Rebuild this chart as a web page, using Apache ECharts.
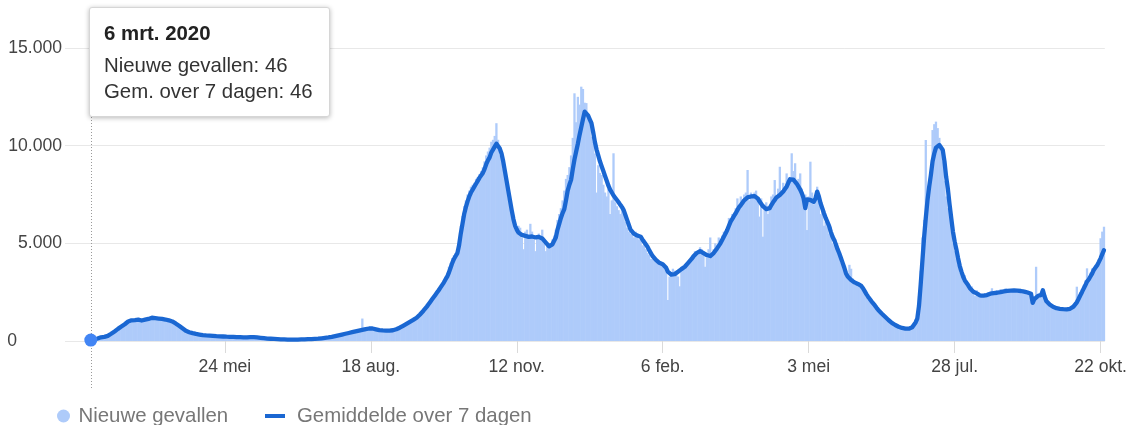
<!DOCTYPE html>
<html><head><meta charset="utf-8">
<script src="https://cdn.jsdelivr.net/npm/echarts@6/dist/echarts.min.js"></script>
<style>html,body{margin:0;padding:0;background:#fff}#c{width:1130px;height:425px}</style>
</head><body><div id="c"></div>
<script>
// ---- data ----
const startDate = [2020, 3, 6]; // day index 0 = 6 mrt. 2020
const monthNames = ['jan.','feb.','mrt.','apr.','mei','jun.','jul.','aug.','sep.','okt.','nov.','dec.'];
const seriesNames = ['Nieuwe gevallen', 'Gemiddelde over 7 dagen'];
const tooltipLabels = ['Nieuwe gevallen', 'Gem. over 7 dagen'];
const tickDays = [79, 165, 251, 337, 423, 509, 595];
const tickLabels = ['24 mei', '18 aug.', '12 nov.', '6 feb.', '3 mei', '28 jul.', '22 okt.'];
const yTicks = [0, 5000, 10000, 15000];
const highlightIndex = 0;

// daily new cases, 6 mrt. 2020 .. 24 okt. 2021
const nieuweGevallen = [
 46,70,85,110,140,170,200,190,190,230,270,320,380,440,500,570,630,700,760,820,880,950,1020,1080,1100,1060,
 1100,1120,1050,1000,980,1150,1130,1180,1200,1120,1250,1230,1150,1080,1200,1170,1180,1090,1060,1120,1100,1010,960,990,930,870,820,750,680,620,
 540,470,430,450,410,370,380,340,320,330,300,280,300,275,290,260,255,270,240,250,235,245,220,230,215,220,200,215,205,210,190,
 210,190,180,200,180,195,200,190,210,195,180,190,170,160,150,140,130,125,115,120,105,110,95,100,85,90,75,85,70,80,
 70,75,65,70,75,70,80,75,85,80,95,90,105,95,110,105,120,115,135,145,155,170,165,190,200,220,240,255,280,300,320,
 340,345,380,385,420,425,460,480,500,520,540,560,1150,600,620,640,660,670,630,610,590,570,560,540,550,520,540,520,540,550,560,
 580,610,650,700,740,790,850,900,950,1000,1050,1100,1150,1220,1300,1400,1500,1580,1700,1800,1950,2050,2200,2300,2450,2550,2700,2800,2950,3050,
 3300,3500,3800,4000,4250,4400,4500,4700,5200,5900,6400,6900,7200,7500,7700,7900,8000,8100,8300,8400,8550,8700,8900,9200,9500,9700,9900,10200,10300,10500,11150,
 10300,9500,9300,8800,8300,7800,7300,6800,6300,5900,5700,5500,5900,5800,5300,4700,5600,5700,5400,6000,5600,5200,4600,5400,5500,5200,5700,5000,4600,4900,
 4800,5000,5200,5400,5700,6200,6500,6800,7200,7700,8300,8500,8900,9500,10400,12680,11200,12500,12100,13020,12900,12200,12180,11600,11200,10460,10200,9600,7600,9000,8600,
 8500,8000,7600,7400,7800,6500,7200,9610,7100,6900,6700,6500,7000,6500,6100,5800,5600,5500,5700,5300,5600,5500,5200,5300,4900,5200,4700,4500,4400,4200,4200,
 4300,4100,4000,3900,4000,3800,3900,3600,2100,3300,3500,3700,3600,3400,3300,2800,3700,3800,3700,3900,4100,4200,4300,4400,4600,4500,4400,4800,
 4700,4600,3800,4500,4700,5300,4400,4700,5000,4900,5300,5200,5400,5600,5500,5800,6300,6200,6500,6400,6800,7300,6900,7400,7200,7500,7600,8755,7200,7600,7400,
 7600,7700,7200,6370,7300,5340,7000,7100,6500,6800,7400,7500,8240,7300,7800,8920,7600,8100,7900,8580,8000,8400,9610,8700,9100,8200,8300,8580,7800,7200,
 7500,5680,7400,9180,7600,7000,7300,7900,7200,6500,6900,5900,6100,6000,5500,5850,5000,4900,5200,4500,4400,4000,3900,3700,3400,3300,3900,3700,3200,2900,3000,
 2900,2800,2850,2600,2400,2250,2100,2050,1950,1850,1700,1650,1550,1450,1400,1300,1200,1150,1050,950,900,850,800,750,700,680,650,620,600,580,
 650,700,750,850,1100,1500,2300,3600,5300,6200,10290,7200,8000,8700,10800,11100,11230,10900,10400,9800,9200,8200,7400,6800,6400,5600,5000,4600,4200,3900,3500,
 3300,3100,3380,2900,2700,2600,2800,2500,2300,2600,2500,2200,2400,2350,2450,2300,2500,2400,2700,2500,2450,2600,2400,2650,2550,2500,2700,2600,2550,2650,2600,
 2600,2650,2550,2600,2500,2650,2500,2450,2550,2400,2350,2300,2200,3800,2300,2200,2400,2250,2100,1950,1900,1800,1850,1700,1750,1650,1700,1600,1650,1600,
 1650,1600,1700,1650,1800,1850,2000,2780,2300,2500,2650,2850,3100,3720,3300,3500,3720,3700,3900,4000,4200,5260,5600,5850
];

// 7-day average
const gemiddelde7 = [
 46,60,80,100,130,160,190,200,210,220,260,310,370,430,490,560,620,680,740,800,860,930,1000,1040,1060,1070,
 1070,1080,1090,1060,1050,1070,1090,1100,1130,1160,1190,1180,1170,1150,1150,1140,1130,1120,1100,1080,1060,1030,1000,960,900,840,780,720,650,590,
 520,480,450,420,400,380,360,345,330,315,300,290,285,280,275,270,265,260,250,245,240,235,230,225,220,215,215,210,210,205,200,
 200,195,190,190,185,185,190,195,200,200,195,185,175,165,155,145,135,125,120,115,110,105,100,95,90,85,80,80,75,75,
 75,70,70,70,70,75,75,80,80,85,90,95,100,100,105,110,115,120,130,140,150,160,170,180,195,210,230,250,270,290,310,
 330,350,370,390,410,430,450,470,490,510,530,550,570,590,610,630,640,650,640,620,600,580,560,550,540,540,530,530,530,540,550,
 570,600,640,680,730,780,830,880,930,980,1030,1080,1130,1190,1270,1360,1450,1550,1650,1760,1880,2000,2120,2240,2360,2480,2600,2730,2860,2990,
 3150,3290,3500,3750,4000,4200,4350,4500,4900,5500,6000,6500,6850,7150,7400,7600,7750,7900,8050,8200,8350,8450,8600,8800,9050,9250,9400,9650,9800,9950,10100,
 10050,9850,9600,9200,8700,8200,7700,7200,6700,6250,5900,5700,5550,5480,5430,5400,5380,5350,5330,5340,5350,5320,5300,5320,5330,5300,5250,5150,5050,4950,
 4850,4900,4950,5000,5300,5700,6000,6300,6550,6750,7200,7700,8000,8250,8800,9300,9700,10100,10550,10950,11350,11740,11700,11550,11350,11150,10700,10200,9800,9500,9200,
 8950,8700,8450,8200,7950,7750,7600,7450,7350,7220,7100,6970,6850,6700,6450,6200,5950,5700,5600,5500,5430,5400,5370,5340,5200,5100,4950,4830,4650,4500,4350,
 4250,4150,4080,4000,3980,3930,3890,3750,3550,3450,3400,3380,3420,3480,3550,3600,3680,3740,3800,3900,4000,4080,4200,4320,4420,4500,4560,4600,
 4550,4500,4450,4400,4370,4350,4400,4500,4600,4740,4870,5000,5170,5340,5500,5680,5900,6110,6250,6400,6540,6700,6850,6960,7080,7200,7300,7350,7380,7400,7420,
 7420,7390,7300,7150,7050,6900,6840,6750,6710,6800,6960,7100,7220,7350,7420,7470,7560,7650,7780,7900,8100,8280,8300,8260,8200,8050,7900,7750,7560,7300,
 6800,7250,7300,7220,7200,7130,7300,7650,7400,7050,6800,6540,6300,6100,5900,5600,5350,5170,4950,4700,4490,4250,4000,3750,3460,3300,3200,3120,3050,3000,2950,
 2920,2880,2820,2700,2550,2400,2270,2150,2030,1930,1820,1700,1590,1500,1410,1330,1240,1160,1075,1000,930,870,820,770,730,700,670,650,630,610,
 630,650,700,770,950,1150,1800,2900,4100,5300,6300,7200,7900,8500,9200,9600,9900,10000,10030,9950,9780,9200,8400,7800,7000,6300,5600,5100,4700,4250,3850,
 3550,3300,3100,3000,2850,2700,2600,2520,2480,2440,2380,2330,2300,2320,2340,2350,2380,2420,2440,2450,2460,2470,2480,2500,2520,2540,2560,2570,2580,2580,2590,
 2590,2580,2580,2570,2560,2550,2530,2510,2480,2450,2420,1950,2150,2250,2300,2330,2360,2600,2280,2050,1950,1870,1800,1750,1700,1680,1660,1650,1640,1630,
 1630,1620,1630,1650,1690,1760,1850,1980,2150,2330,2500,2680,2850,3040,3150,3300,3450,3640,3760,3880,4050,4230,4450,4650
];

// ---- chart ----
const FONT = "'Liberation Sans', Arial, Helvetica, sans-serif";
const fmt = v => String(v).replace(/\B(?=(\d{3})+(?!\d))/g, '.');
function dateLabel(i) {
  const d = new Date(startDate[0], startDate[1] - 1, startDate[2] + i);
  return d.getDate() + ' ' + monthNames[d.getMonth()] + ' ' + d.getFullYear();
}
const BAR = '#aecbfa', LINE = '#1a67d2', DOT = '#4285f4';

const chart = echarts.init(document.getElementById('c'), null, {renderer: 'canvas'});
chart.setOption({
  animation: false,
  backgroundColor: '#fff',
  grid: {left: 65, right: 25, top: 48, bottom: 84},
  xAxis: {
    type: 'value', min: -15.2, max: 597.5,
    splitLine: {show: false},
    axisLine: {show: false},
    axisTick: {show: true, customValues: tickDays, length: 12, lineStyle: {color: '#dadada'}},
    axisLabel: {
      customValues: tickDays, margin: 17, fontSize: 17.6, color: '#444', fontFamily: FONT,
      formatter: v => { const k = tickDays.indexOf(Math.round(v)); return k >= 0 ? tickLabels[k] : ''; }
    }
  },
  yAxis: {
    type: 'value', min: yTicks[0], max: yTicks[yTicks.length - 1], interval: yTicks[1] - yTicks[0],
    axisLine: {show: false}, axisTick: {show: false},
    splitLine: {lineStyle: {color: '#e8e8e8', width: 1}},
    axisLabel: {margin: 3, fontSize: 17.6, color: '#444', fontFamily: FONT,
      formatter: v => v === 0 ? '{z|0}' : fmt(v),
      rich: {z: {fontSize: 17.6, color: '#444', fontFamily: FONT, padding: [0, 45, 0, 0]}}}
  },
  legend: [
    {data: [{name: seriesNames[0], icon: 'circle'}], left: 52, top: 401, itemWidth: 20, itemHeight: 13,
     selectedMode: false, textStyle: {fontSize: 20.4, color: '#777', fontFamily: FONT}},
    {data: [{name: seriesNames[1], icon: 'path://M0,0H20V4H0Z', itemStyle: {color: LINE}}], left: 260, top: 401,
     itemWidth: 20, itemHeight: 4,
     selectedMode: false, textStyle: {fontSize: 20.4, color: '#777', fontFamily: FONT, padding: [0, 0, 0, 7]}}
  ],
  tooltip: {
    trigger: 'item', triggerOn: 'none', alwaysShowContent: true, position: [89, 7],
    padding: [13, 14, 12, 14], backgroundColor: '#fff', borderColor: '#d6d6d6', borderWidth: 1,
    transitionDuration: 0,
    extraCssText: 'box-shadow:0 1px 5px rgba(0,0,0,0.28);border-radius:3px;',
    formatter: p => {
      const i = p.data[0];
      return '<div style="font-family:' + FONT.replace(/'/g, '') + ';width:211px;color:#222;">' +
        '<div style="font-size:20.4px;line-height:24px;font-weight:bold;margin-bottom:7px;">' + dateLabel(i) + '</div>' +
        '<div style="font-size:20.4px;line-height:26px;color:#333;">' + tooltipLabels[0] + ': ' + fmt(nieuweGevallen[i]) + '</div>' +
        '<div style="font-size:20.4px;line-height:26px;color:#333;">' + tooltipLabels[1] + ': ' + fmt(gemiddelde7[i]) + '</div></div>';
    }
  },
  series: [
    {name: seriesNames[0], type: 'bar', data: nieuweGevallen.map((v, i) => [i, v]),
     barWidth: 2.3, itemStyle: {color: BAR}, emphasis: {disabled: true}, silent: true, z: 1},
    {name: seriesNames[1], type: 'line', data: gemiddelde7.map((v, i) => [i, v]),
     showSymbol: false, symbol: 'none', lineStyle: {width: 4.3, color: LINE, join: 'round', cap: 'round'},
     itemStyle: {color: LINE}, emphasis: {disabled: true}, silent: true, z: 3},
    {type: 'scatter', data: [[highlightIndex, gemiddelde7[highlightIndex]]], symbolSize: 13,
     itemStyle: {color: DOT, opacity: 1}, emphasis: {disabled: true}, z: 5}
  ]
});

const px = chart.convertToPixel({xAxisIndex: 0}, highlightIndex);
const gx = Math.round(px) + 0.5;
chart.setOption({
  graphic: [{type: 'line', silent: true, z: 0,
    shape: {x1: gx, y1: 48, x2: gx, y2: 388},
    style: {stroke: '#9a9a9a', lineWidth: 1, lineDash: [1, 2]}}]
});
chart.dispatchAction({type: 'showTip', seriesIndex: 2, dataIndex: 0});
</script>
</body></html>
